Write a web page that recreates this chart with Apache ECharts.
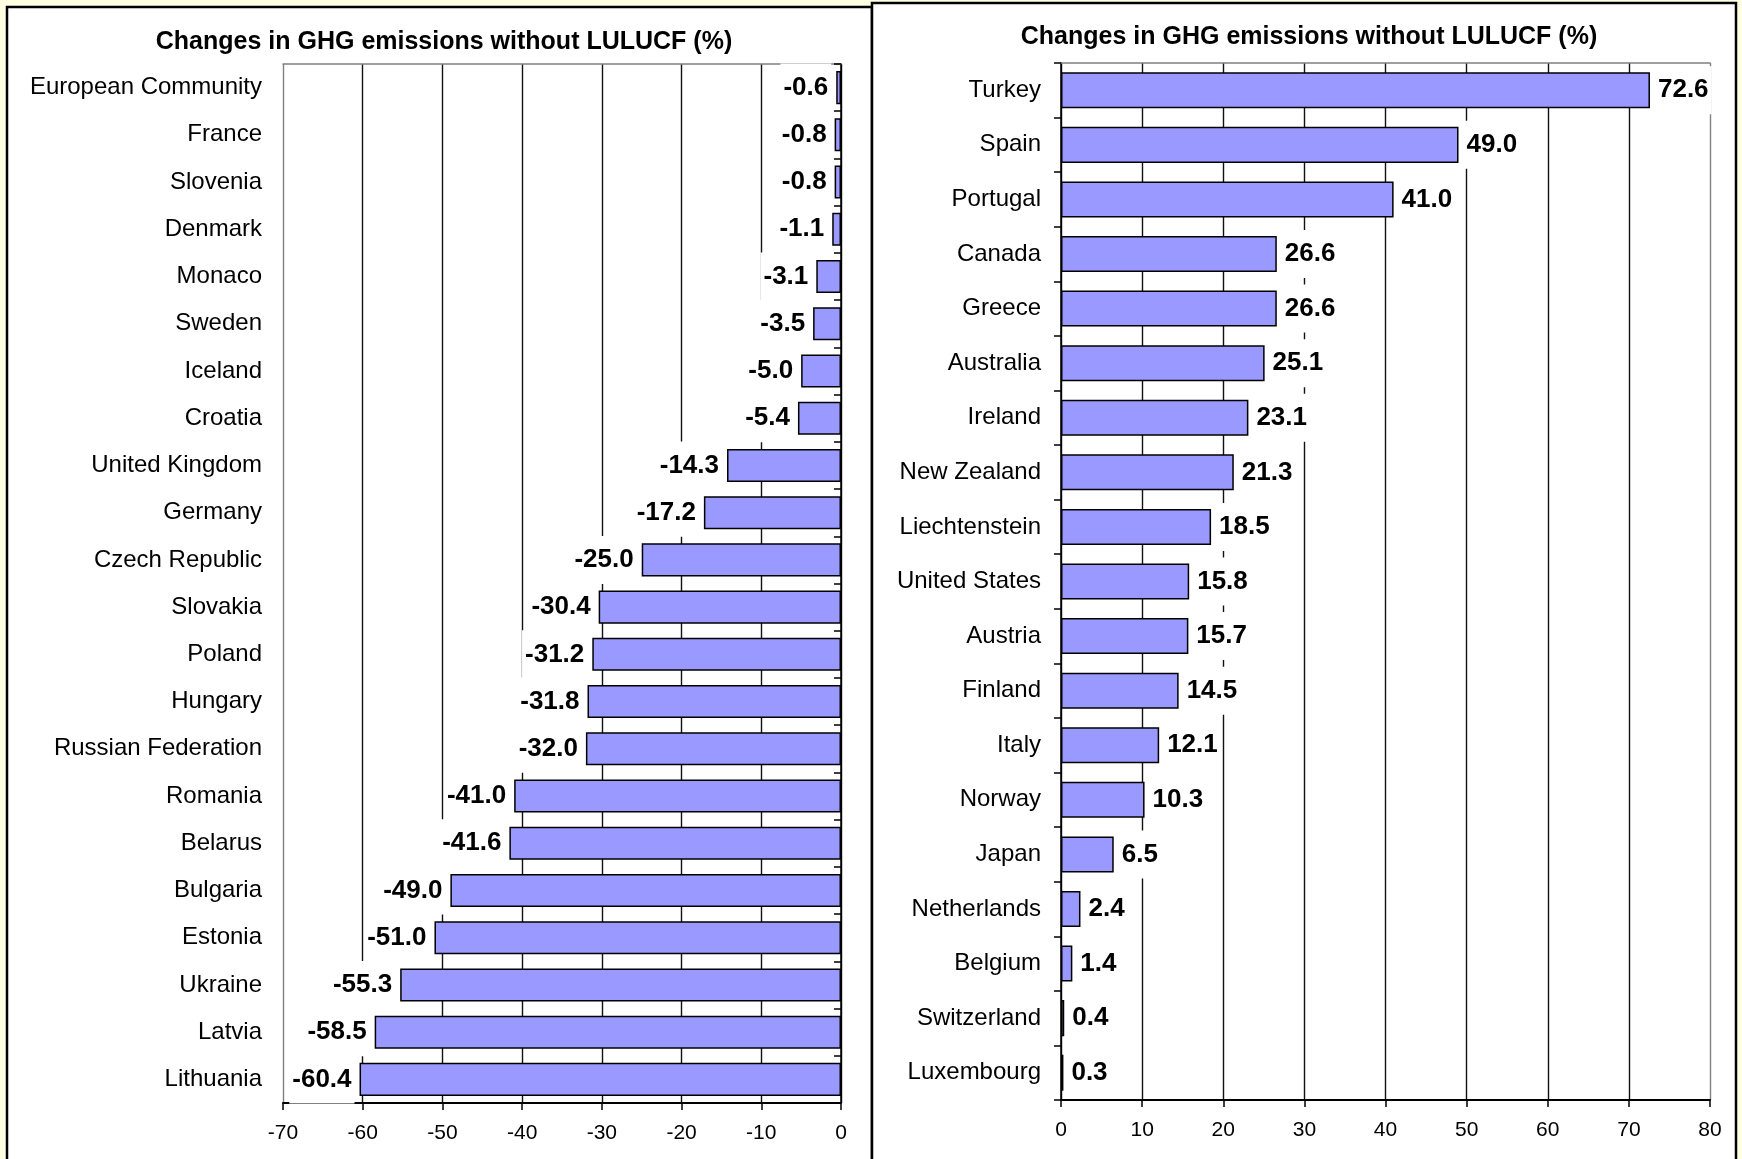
<!DOCTYPE html>
<html>
<head>
<meta charset="utf-8">
<script src="https://cdn.jsdelivr.net/npm/echarts@6/dist/echarts.min.js"></script>
<style>
html,body{margin:0;padding:0;background:#FFFFE1;}
#c{width:1742px;height:1159px;}
</style>
</head>
<body>
<div id="c"></div>
<script>
const titleText = 'Changes in GHG emissions without LULUCF (%)';

const leftCategories = ['European Community','France','Slovenia','Denmark','Monaco','Sweden','Iceland','Croatia','United Kingdom','Germany','Czech Republic','Slovakia','Poland','Hungary','Russian Federation','Romania','Belarus','Bulgaria','Estonia','Ukraine','Latvia','Lithuania'];
const leftValues = [-0.6,-0.8,-0.8,-1.1,-3.1,-3.5,-5.0,-5.4,-14.3,-17.2,-25.0,-30.4,-31.2,-31.8,-32.0,-41.0,-41.6,-49.0,-51.0,-55.3,-58.5,-60.4];

const rightCategories = ['Turkey','Spain','Portugal','Canada','Greece','Australia','Ireland','New Zealand','Liechtenstein','United States','Austria','Finland','Italy','Norway','Japan','Netherlands','Belgium','Switzerland','Luxembourg'];
const rightValues = [72.6,49.0,41.0,26.6,26.6,25.1,23.1,21.3,18.5,15.8,15.7,14.5,12.1,10.3,6.5,2.4,1.4,0.4,0.3];

const leftAxisMin = -70, leftAxisMax = 0;
const rightAxisMin = 0, rightAxisMax = 80;
const axisInterval = 10;

const FONT = '"Liberation Sans", Arial, sans-serif';
const chart = echarts.init(document.getElementById('c'));

const barColor = '#9999FF';
function labelCfg(pos){
  return {
    show: true, position: pos, distance: 5,
    fontFamily: FONT, fontSize: 26, fontWeight: 'bold', color: '#000',
    backgroundColor: '#fff', padding: [11, 3],
    formatter: p => p.value.toFixed(1)
  };
}

const option = {
  backgroundColor: '#FFFFE1',
  animation: false,
  graphic: [
    {type:'rect', z:-10, shape:{x:7,y:7,width:865,height:1170}, style:{fill:'#fff', stroke:'#000', lineWidth:2.5}},
    {type:'rect', z:-9, shape:{x:872,y:3,width:864,height:1175}, style:{fill:'#fff', stroke:'#000', lineWidth:2.5}},
    {type:'text', x: 444, y: 42, style:{text:titleText, font:'bold 25px ' + FONT, fill:'#000', align:'center', verticalAlign:'middle'}},
    {type:'text', x: 1309, y: 37, style:{text:titleText, font:'bold 25px ' + FONT, fill:'#000', align:'center', verticalAlign:'middle'}}
  ],
  grid: [
    {left: 283, top: 64, width: 558, height: 1039},
    {left: 1061, top: 63, width: 649, height: 1037}
  ],
  xAxis: [
    {gridIndex:0, type:'value', min:leftAxisMin, max:leftAxisMax, interval:axisInterval, position:'bottom',
     axisLine:{show:true, onZero:false, lineStyle:{color:'#000', width:2}},
     axisTick:{show:true, length:7, lineStyle:{color:'#000', width:1.5}},
     axisLabel:{fontFamily:FONT, fontSize:21, color:'#000', margin:20},
     splitLine:{show:true, lineStyle:{color:['#808080','#111','#111','#111','#111','#111','#111','#000'], width:1.4}}},
    {gridIndex:0, type:'value', min:leftAxisMin, max:leftAxisMax, interval:axisInterval, position:'top',
     axisLine:{show:true, onZero:false, lineStyle:{color:'#808080', width:1.5}},
     axisTick:{show:false}, axisLabel:{show:false}, splitLine:{show:false}},
    {gridIndex:1, type:'value', min:rightAxisMin, max:rightAxisMax, interval:axisInterval, position:'bottom',
     axisLine:{show:true, onZero:false, lineStyle:{color:'#000', width:2}},
     axisTick:{show:true, length:7, lineStyle:{color:'#000', width:1.5}},
     axisLabel:{fontFamily:FONT, fontSize:21, color:'#000', margin:20},
     splitLine:{show:true, lineStyle:{color:['#000','#111','#111','#111','#111','#111','#111','#111','#808080'], width:1.4}}},
    {gridIndex:1, type:'value', min:rightAxisMin, max:rightAxisMax, interval:axisInterval, position:'top',
     axisLine:{show:true, onZero:false, lineStyle:{color:'#808080', width:1.5}},
     axisTick:{show:false}, axisLabel:{show:false}, splitLine:{show:false}}
  ],
  yAxis: [
    {gridIndex:0, type:'category', data:leftCategories, inverse:true, position:'left',
     axisLine:{show:false}, axisTick:{show:false},
     axisLabel:{fontFamily:FONT, fontSize:24, color:'#000', margin:21}},
    {gridIndex:0, type:'category', data:leftCategories, inverse:true, position:'right',
     axisLine:{show:true, lineStyle:{color:'#000', width:1.5}},
     axisTick:{show:true, inside:true, length:7, lineStyle:{color:'#000', width:1.5}},
     axisLabel:{show:false}},
    {gridIndex:1, type:'category', data:rightCategories, inverse:true, position:'left',
     axisLine:{show:true, lineStyle:{color:'#000', width:1.5}},
     axisTick:{show:true, length:7, lineStyle:{color:'#000', width:1.5}},
     axisLabel:{fontFamily:FONT, fontSize:24, color:'#000', margin:20}}
  ],
  series: [
    {type:'bar', xAxisIndex:0, yAxisIndex:0, data:leftValues, barCategoryGap:'30%',
     itemStyle:{color:barColor, borderColor:'#000', borderWidth:1.5},
     label: labelCfg('left')},
    {type:'bar', xAxisIndex:2, yAxisIndex:2, data:rightValues, barCategoryGap:'34%',
     itemStyle:{color:barColor, borderColor:'#000', borderWidth:1.5},
     label: labelCfg('right')}
  ]
};
chart.setOption(option);
</script>
</body>
</html>
